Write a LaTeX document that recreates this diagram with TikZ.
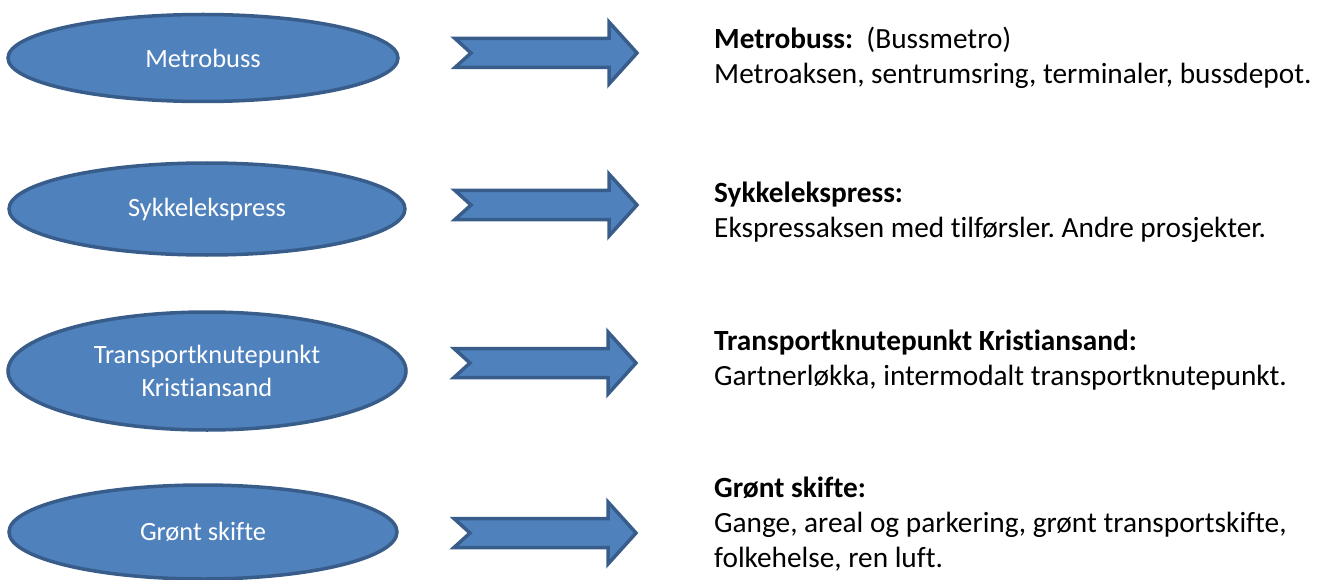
\documentclass[tikz,border=0pt]{standalone}
\usepackage{fontspec}
\setmainfont{Carlito}[Ligatures={NoCommon}]
\usetikzlibrary{shapes.geometric}
\definecolor{fillblue}{HTML}{4F81BD}
\definecolor{edgeblue}{HTML}{385D8A}
\frenchspacing
\tikzset{
  oval/.style={ellipse, draw=edgeblue, fill=fillblue, line width=3.5pt, inner sep=0pt,
    text=white, align=center, font=\fontsize{26.4}{32.2}\selectfont},
  arrowshape/.style={draw=edgeblue, fill=fillblue, line width=3.5pt, line join=miter},
  desc/.style={anchor=base west, inner sep=0pt, text=black, font=\fontsize{29.3}{35}\selectfont},
  blockarrow/.pic={\draw[arrowshape] (-91,-14.5) -- (63,-14.5) -- (63,-31) -- (91,0) -- (63,31) -- (63,14.5) -- (-91,14.5) -- (-75,0) -- cycle;}
}
\begin{document}
\begin{tikzpicture}[x=1pt,y=-1pt]
\useasboundingbox (0,0) rectangle (1319,580);
% ellipses
\node[oval, minimum width=390pt, minimum height=87pt] (e1) at (203,58) {Metrobuss};
\node[oval, minimum width=396pt, minimum height=92pt] (e2) at (207,209) {Sykkelekspress};
\node[oval, minimum width=398pt, minimum height=118pt] (e3) at (207,371) {Transportknutepunkt\\Kristiansand};
\node[oval, minimum width=388pt, minimum height=94pt] (e4) at (203,532) {Grønt skifte};
% arrows
\pic (a1) at (546,53) {blockarrow};
\pic (a2) at (546,205) {blockarrow};
\pic (a3) at (545,363) {blockarrow};
\pic (a4) at (545,533) {blockarrow};
% descriptions
\node[desc] (t1a) at (714,49) {\textbf{Metrobuss:}\ \ (Bussmetro)};
\node[desc] (t1b) at (714,84) {Metroaksen, sentrumsring, terminaler, bussdepot.};
\node[desc] (t2a) at (714,202) {\textbf{Sykkelekspress:}};
\node[desc] (t2b) at (714,237) {Ekspressaksen med tilførsler. Andre prosjekter.};
\node[desc] (t3a) at (714,350) {\textbf{Transportknutepunkt Kristiansand:}};
\node[desc] (t3b) at (714,385) {Gartnerløkka, intermodalt transportknutepunkt.};
\node[desc] (t4a) at (714,497) {\textbf{Grønt skifte:}};
\node[desc] (t4b) at (714,532) {Gange, areal og parkering, grønt transportskifte,};
\node[desc] (t4c) at (714,567) {folkehelse, ren luft.};
\end{tikzpicture}
\end{document}
